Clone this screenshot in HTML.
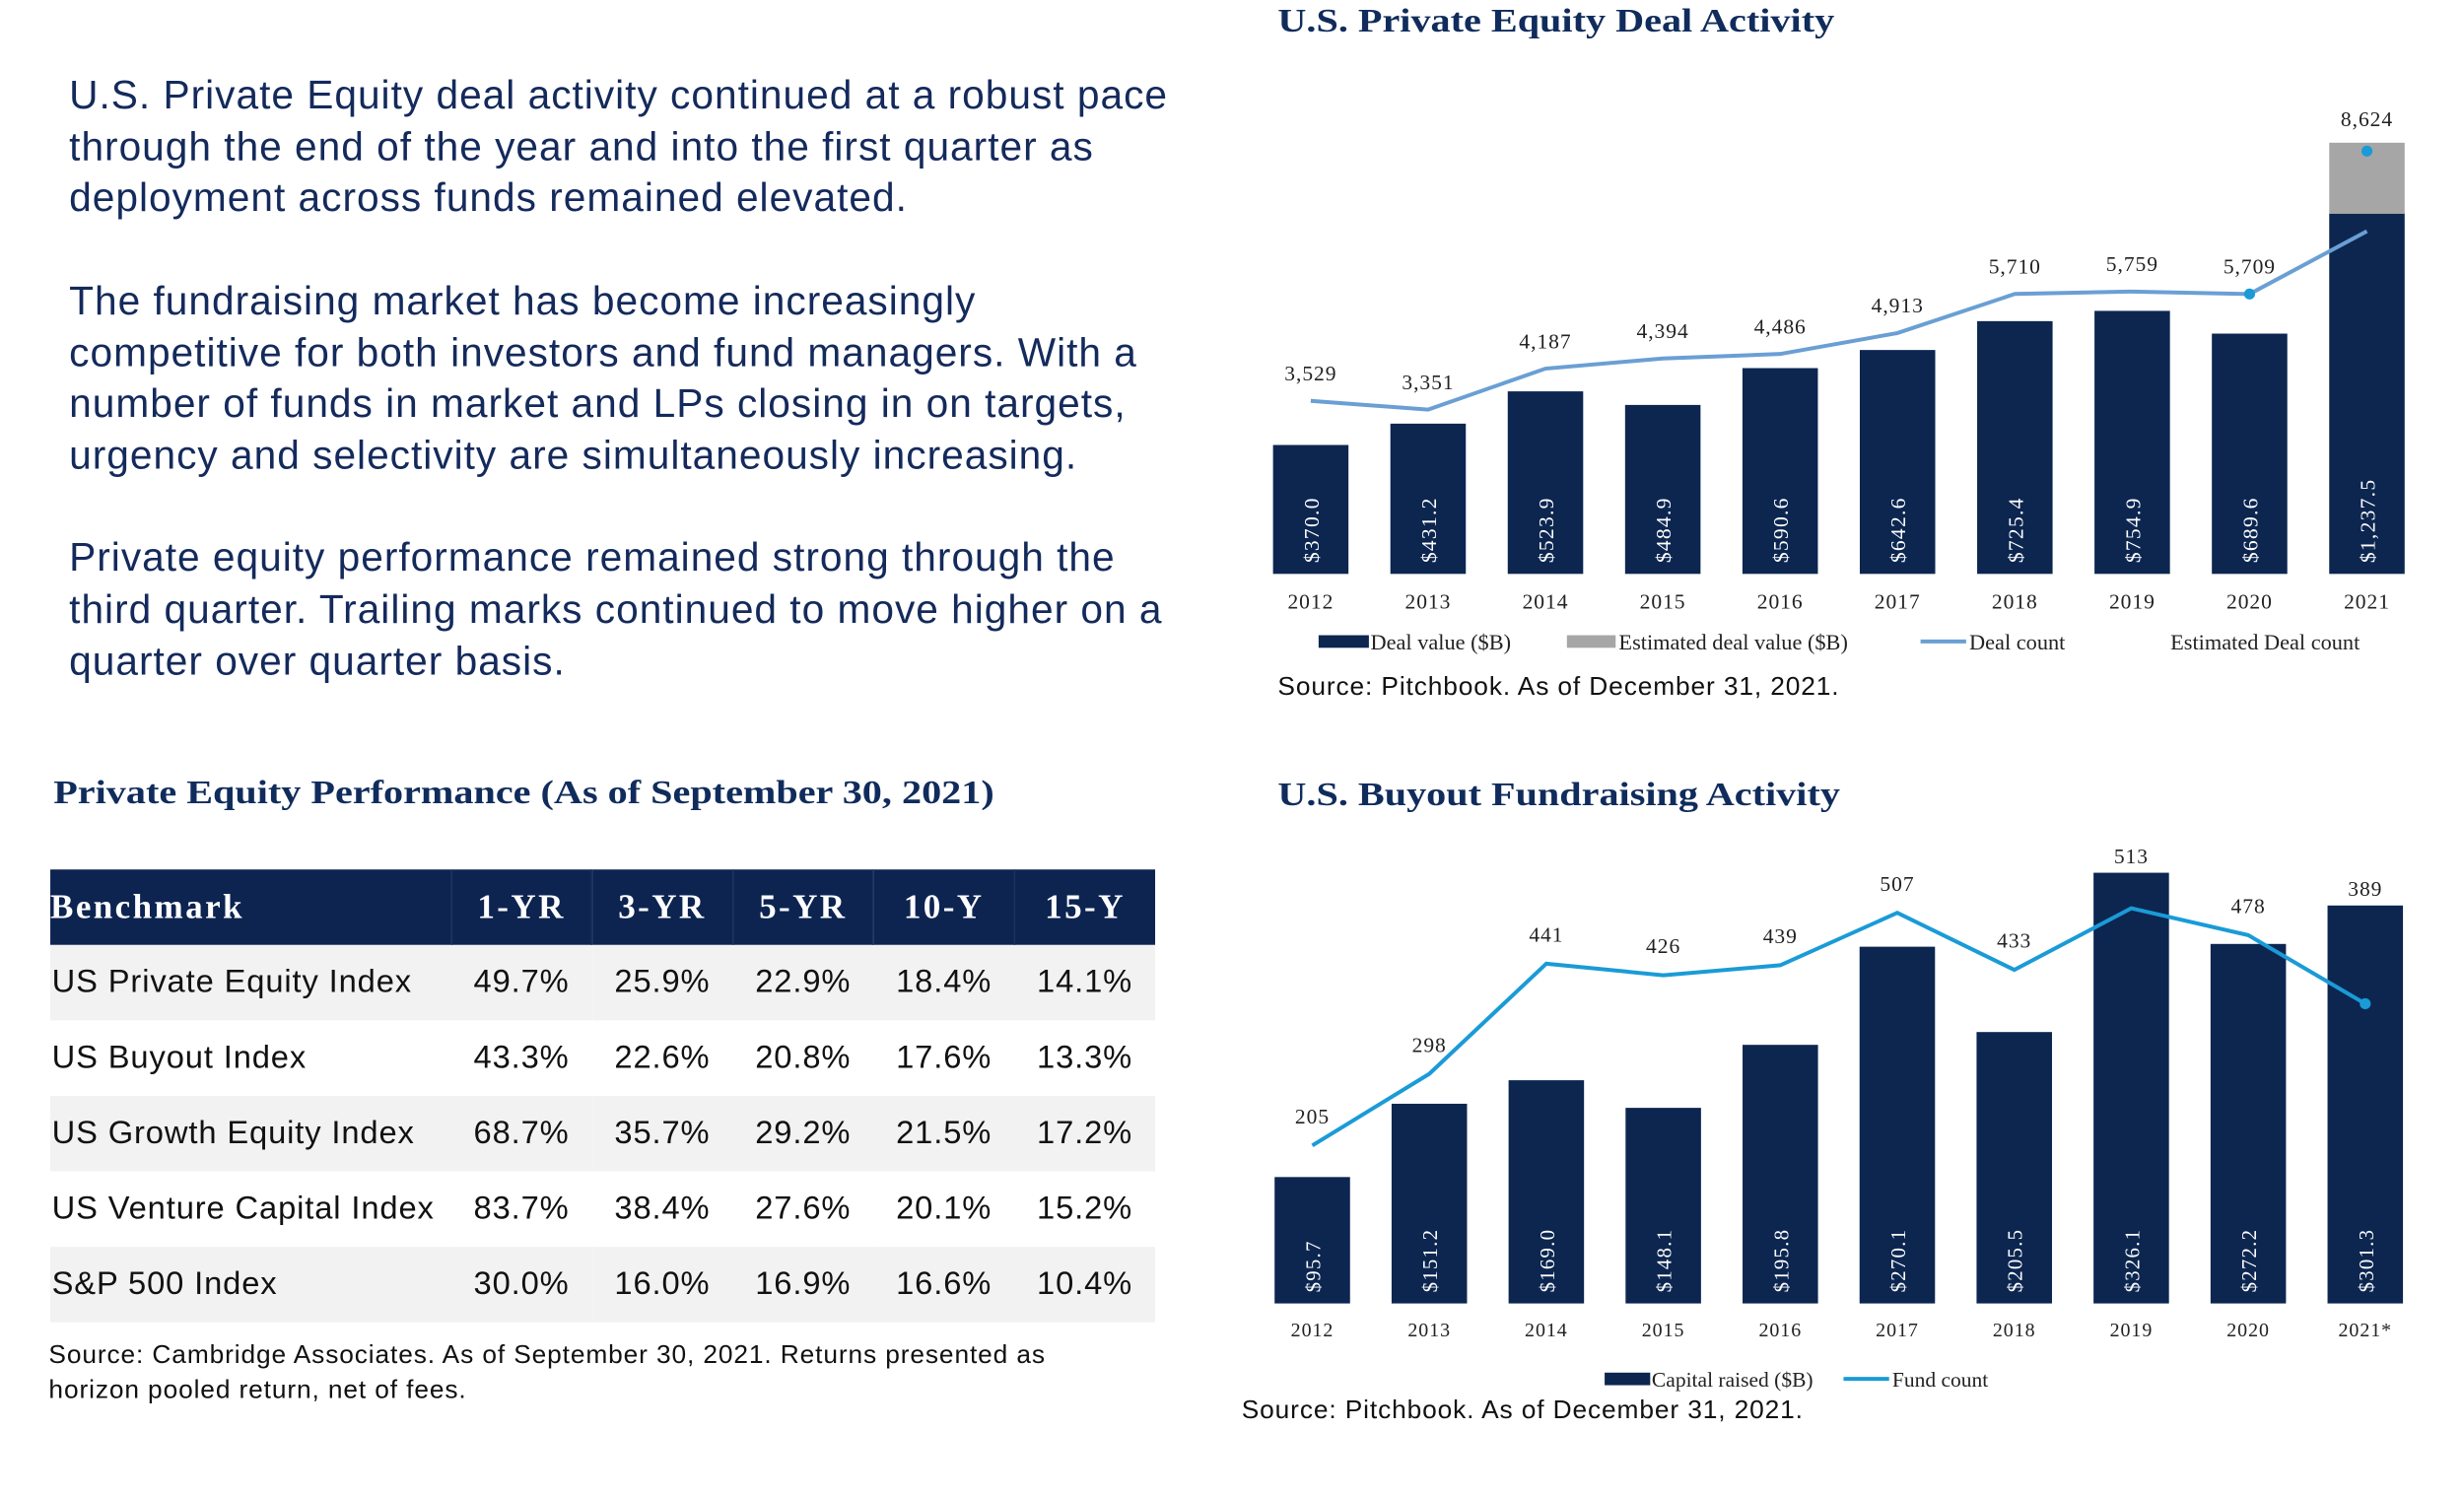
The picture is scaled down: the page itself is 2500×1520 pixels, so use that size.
<!DOCTYPE html>
<html><head><meta charset="utf-8"><style>
html,body{margin:0;padding:0;background:#fff;width:2500px;height:1520px;overflow:hidden}
#page{position:absolute;left:0;top:0;width:1560px;height:948px;transform-origin:0 0;transform:scale(1.5946,1.5954)}
.intro{position:absolute;left:44px;top:45px;width:760px;font-family:"Liberation Sans",sans-serif;font-size:25.5px;line-height:32.7px;color:#142a5c;margin:0;letter-spacing:0.62px}
.intro p{margin:0 0 32.7px 0}
.ttl{position:absolute;font-family:"Liberation Serif",serif;font-weight:bold;font-size:21px;color:#102c5c;white-space:nowrap;transform-origin:0 0;transform:scaleX(1.2)}
table{position:absolute;left:32px;top:553px;width:703px;border-collapse:collapse;font-family:"Liberation Sans",sans-serif;font-size:20.5px;color:#111;letter-spacing:0.55px;table-layout:fixed}
th{background:#0d2451;color:#fff;font-family:"Liberation Serif",serif;font-size:22px;height:48px;text-align:center;padding:0;border-left:1px solid #1a3262;letter-spacing:1.5px}
th:first-child{text-align:left;border-left:none}
td{height:48px;padding:0;text-align:center;white-space:nowrap}
td:first-child{text-align:left;padding-left:1px}
tr.g td{background:#f2f2f2}
.src{position:absolute;font-family:"Liberation Sans",sans-serif;font-size:16.5px;color:#111;line-height:22px;letter-spacing:0.55px;white-space:nowrap}
svg{position:absolute;left:0;top:0}
</style></head><body>
<div id="page">
<div class="intro">
<p>U.S. Private Equity deal activity continued at a robust pace<br>through the end of the year and into the first quarter as<br>deployment across funds remained elevated.</p>
<p>The fundraising market has become increasingly<br>competitive for both investors and fund managers. With a<br>number of funds in market and LPs closing in on targets,<br>urgency and selectivity are simultaneously increasing.</p>
<p>Private equity performance remained strong through the<br>third quarter. Trailing marks continued to move higher on a<br>quarter over quarter basis.</p>
</div>

<div class="ttl" style="left:34px;top:492px">Private Equity Performance (As of September 30, 2021)</div>
<table>
<colgroup><col style="width:255px"><col><col><col><col><col></colgroup>
<tr><th>Benchmark</th><th>1-YR</th><th>3-YR</th><th>5-YR</th><th>10-Y</th><th>15-Y</th></tr>
<tr class="g"><td>US Private Equity Index</td><td>49.7%</td><td>25.9%</td><td>22.9%</td><td>18.4%</td><td>14.1%</td></tr>
<tr><td>US Buyout Index</td><td>43.3%</td><td>22.6%</td><td>20.8%</td><td>17.6%</td><td>13.3%</td></tr>
<tr class="g"><td>US Growth Equity Index</td><td>68.7%</td><td>35.7%</td><td>29.2%</td><td>21.5%</td><td>17.2%</td></tr>
<tr><td>US Venture Capital Index</td><td>83.7%</td><td>38.4%</td><td>27.6%</td><td>20.1%</td><td>15.2%</td></tr>
<tr class="g"><td>S&amp;P 500 Index</td><td>30.0%</td><td>16.0%</td><td>16.9%</td><td>16.6%</td><td>10.4%</td></tr>
</table>
<div class="src" style="left:31px;top:851px">Source: Cambridge Associates. As of September 30, 2021. Returns presented as<br>horizon pooled return, net of fees.</div>

<div class="ttl" style="left:813px;top:1px">U.S. Private Equity Deal Activity</div>
<div class="src" style="left:813px;top:426px">Source: Pitchbook. As of December 31, 2021.</div>
<div class="ttl" style="left:813px;top:493px">U.S. Buyout Fundraising Activity</div>
<div class="src" style="left:790px;top:886px">Source: Pitchbook. As of December 31, 2021.</div>

<svg id="chart" width="1560" height="948"></svg>
</div>
<script>
const dealYears=["2012","2013","2014","2015","2016","2017","2018","2019","2020","2021"];
const dealValue=[370.0,431.2,523.9,484.9,590.6,642.6,725.4,754.9,689.6,1034];
const dealEstExtra=[0,0,0,0,0,0,0,0,0,203.5];
const dealValueLabels=["$370.0","$431.2","$523.9","$484.9","$590.6","$642.6","$725.4","$754.9","$689.6","$1,237.5"];
const dealCount=[3529,3351,4187,4394,4486,4913,5710,5759,5709,6990];
const dealCountLabels=["3,529","3,351","4,187","4,394","4,486","4,913","5,710","5,759","5,709",""];
const estDealCount=8624;
const fundYears=["2012","2013","2014","2015","2016","2017","2018","2019","2020","2021*"];
const fundCapital=[95.7,151.2,169.0,148.1,195.8,270.1,205.5,326.1,272.2,301.3];
const fundCount=[205,298,441,426,439,507,433,513,478,389];

const NS="http://www.w3.org/2000/svg";
const svg=document.getElementById('chart');
function el(t,a,txt){const e=document.createElementNS(NS,t);for(const k in a)e.setAttribute(k,a[k]);if(txt!==undefined)e.textContent=txt;svg.appendChild(e);return e;}
const SERIF='"Liberation Serif",serif';
const LS='0.6px';

const dx=i=>834+i*74.67;
const dyV=v=>365-v*0.2216;
const dyC=v=>365-v*0.03118;
dealYears.forEach((y,i)=>{
  let b=el('rect',{x:dx(i)-24,y:dyV(dealValue[i]),width:48,height:365-dyV(dealValue[i]),fill:'#0c2650'});
  
  
  if(dealEstExtra[i]>0){
    let g=el('rect',{x:dx(i)-24,y:dyV(dealValue[i]+dealEstExtra[i]),width:48,height:dealEstExtra[i]*0.2216,fill:'#a6a6a6'});
    
    
  }
  let t=el('text',{x:0,y:0,transform:`translate(${dx(i)+5},358) rotate(-90)`,fill:'#fff','font-family':SERIF,'font-size':13.5,'letter-spacing':'0.8px'},dealValueLabels[i]);
  
  
  let yl=el('text',{x:dx(i),y:387,'text-anchor':'middle','font-family':SERIF,'font-size':13.5,fill:'#222','letter-spacing':LS},y);
  
  
  if(dealCountLabels[i]){
    let cl=el('text',{x:dx(i),y:dyC(dealCount[i])-13,'text-anchor':'middle','font-family':SERIF,'font-size':13.5,fill:'#222','letter-spacing':LS},dealCountLabels[i]);
    
    
  }
});
let dl=el('polyline',{points:dealCount.map((v,i)=>dx(i)+','+dyC(v)).join(' '),fill:'none',stroke:'#6a9fd4','stroke-width':2.5});


let d20=el('circle',{cx:dx(8),cy:dyC(dealCount[8]),r:3.5,fill:'#1a9bd7'});


let d21=el('circle',{cx:dx(9),cy:dyC(estDealCount),r:3.5,fill:'#1a9bd7'});


let el21=el('text',{x:dx(9),y:dyC(estDealCount)-16,'text-anchor':'middle','font-family':SERIF,'font-size':13.5,fill:'#222','letter-spacing':LS},estDealCount.toLocaleString('en-US'));


let l1=el('rect',{x:839,y:404,width:32,height:8,fill:'#0c2650'});
let l1t=el('text',{x:872,y:413,'font-family':SERIF,'font-size':14,fill:'#222'},'Deal value ($B)');
let l2=el('rect',{x:997,y:404,width:31,height:8,fill:'#a6a6a6'});
let l2t=el('text',{x:1030,y:413,'font-family':SERIF,'font-size':14,fill:'#222'},'Estimated deal value ($B)');
let l3=el('line',{x1:1222,y1:408,x2:1251,y2:408,stroke:'#6a9fd4','stroke-width':2.5});
let l3t=el('text',{x:1253,y:413,'font-family':SERIF,'font-size':14,fill:'#222'},'Deal count');
let l4t=el('text',{x:1381,y:413,'font-family':SERIF,'font-size':14,fill:'#222'},'Estimated Deal count');

const fx=i=>835+i*74.44;
const fyV=v=>829-v*0.840;
const fyC=v=>829-v*0.49;
fundYears.forEach((y,i)=>{
  let b=el('rect',{x:fx(i)-24,y:fyV(fundCapital[i]),width:48,height:829-fyV(fundCapital[i]),fill:'#0c2650'});
  
  
  let t=el('text',{x:0,y:0,transform:`translate(${fx(i)+5},822) rotate(-90)`,fill:'#fff','font-family':SERIF,'font-size':13,'letter-spacing':'0.8px'},'$'+fundCapital[i].toFixed(1));
  
  
  let yl=el('text',{x:fx(i),y:850,'text-anchor':'middle','font-family':SERIF,'font-size':12.5,fill:'#222','letter-spacing':LS},y);
  
  
  let ly=Math.min(fyC(fundCount[i])-14,fyV(fundCapital[i])-6);
  let cl=el('text',{x:fx(i),y:ly,'text-anchor':'middle','font-family':SERIF,'font-size':13.5,fill:'#222','letter-spacing':LS},String(fundCount[i]));
  
  
});
let fl=el('polyline',{points:fundCount.map((v,i)=>fx(i)+','+fyC(v)).join(' '),fill:'none',stroke:'#1a9bd7','stroke-width':2.5});


let f21=el('circle',{cx:fx(9),cy:fyC(fundCount[9]),r:3.5,fill:'#1a9bd7'});


let m1=el('rect',{x:1021,y:873,width:29,height:8,fill:'#0c2650'});
let m1t=el('text',{x:1051,y:882,'font-family':SERIF,'font-size':13.5,fill:'#222'},'Capital raised ($B)');
let m2=el('line',{x1:1173,y1:877,x2:1202,y2:877,stroke:'#1a9bd7','stroke-width':2.5});
let m2t=el('text',{x:1204,y:882,'font-family':SERIF,'font-size':13.5,fill:'#222'},'Fund count');
</script>
</body></html>
